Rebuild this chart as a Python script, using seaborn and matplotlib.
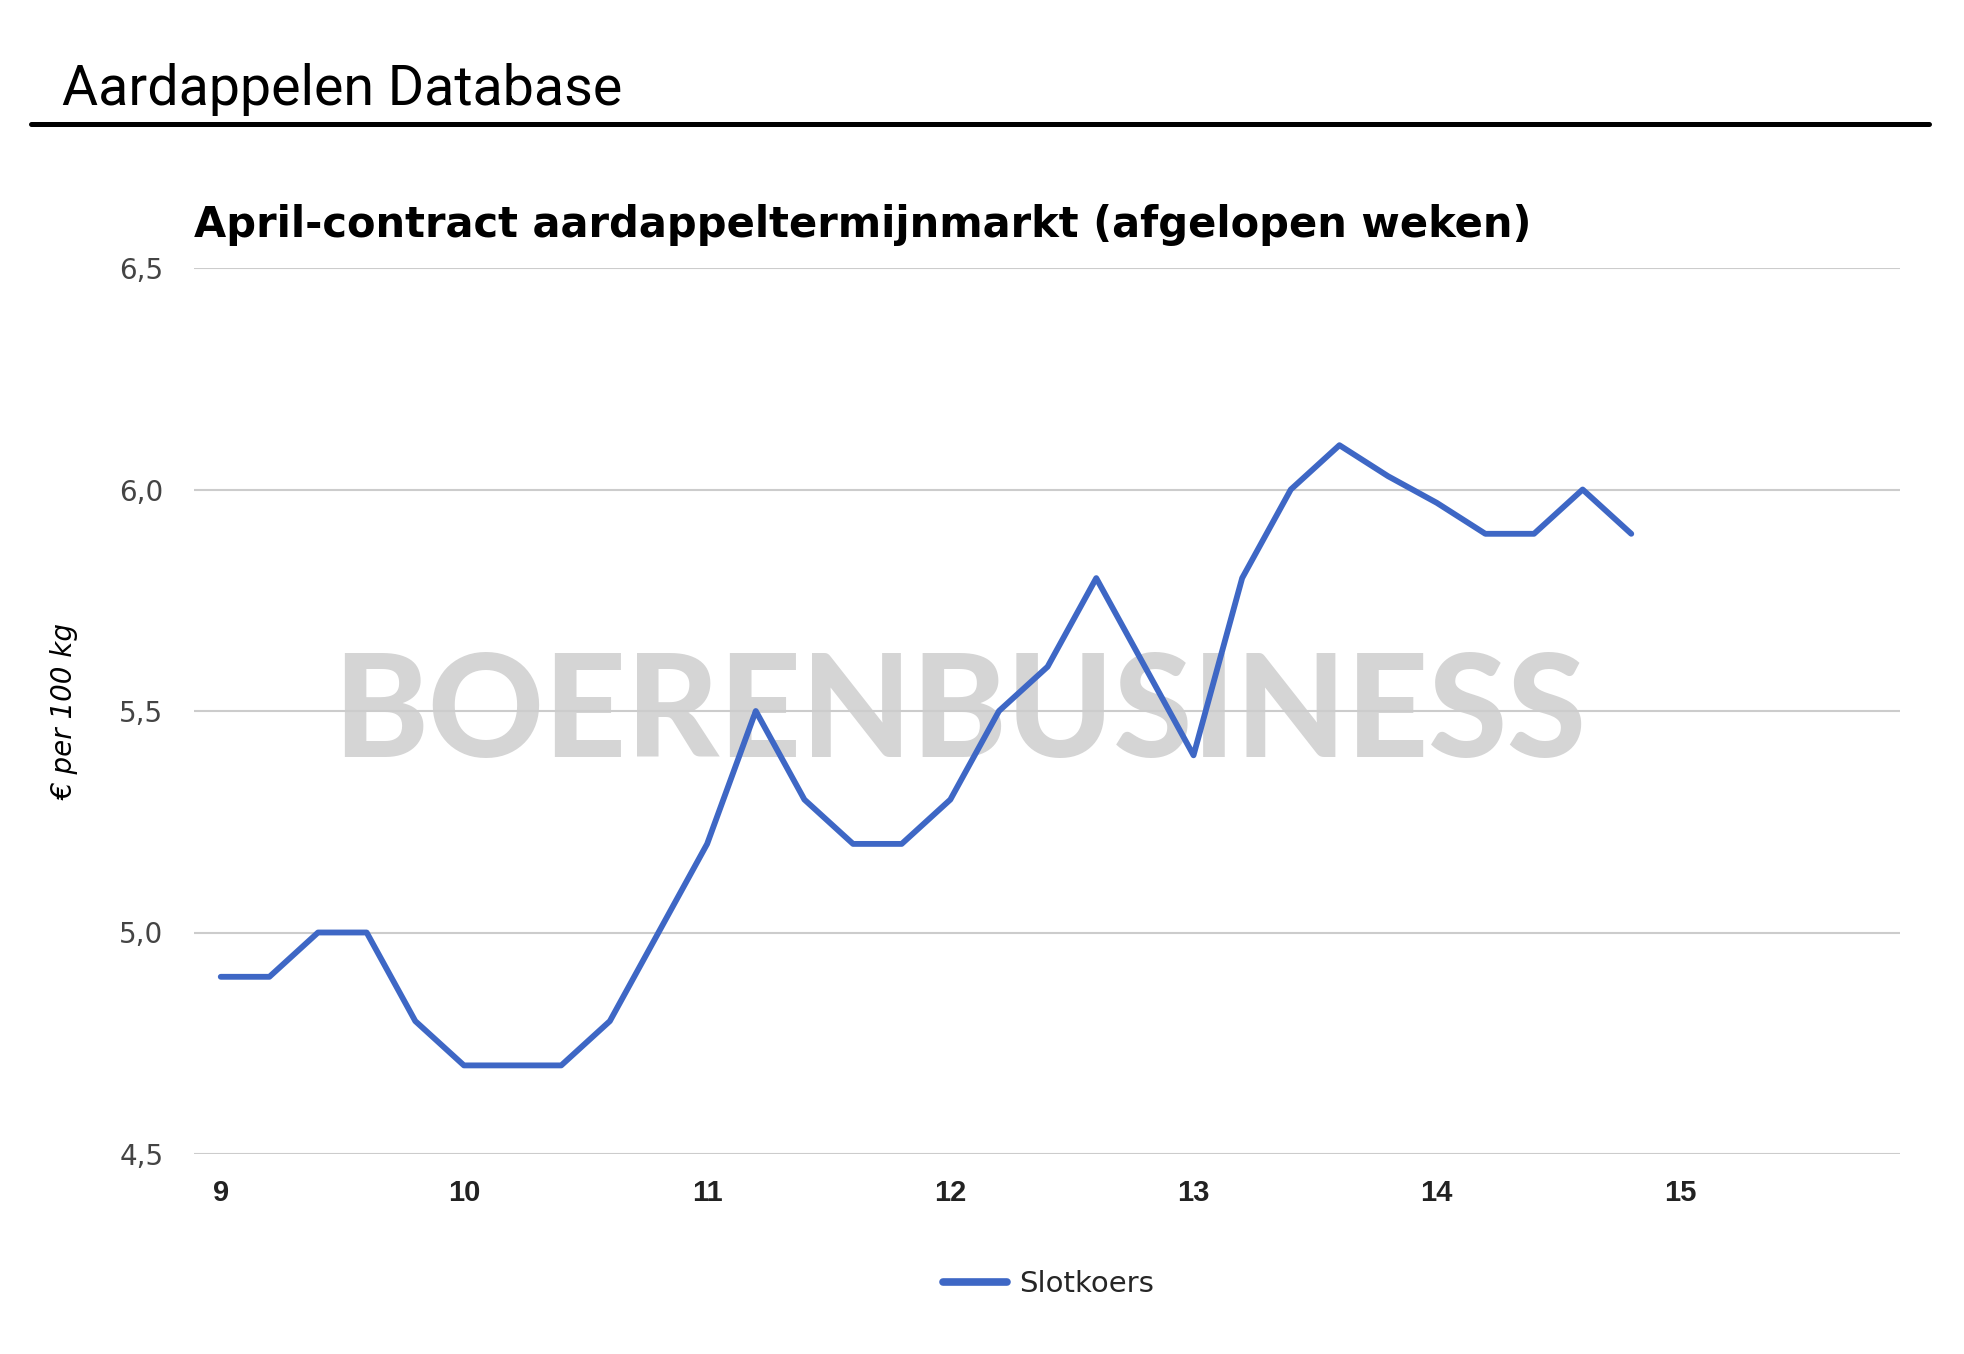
import matplotlib.pyplot as plt
import pandas as pd
import seaborn as sns
from matplotlib.lines import Line2D

# data (week number, closing price in euro per 100 kg)
weeks = [9.0, 9.2, 9.4, 9.6, 9.8, 10.0, 10.2, 10.4, 10.6, 10.8,
         11.0, 11.2, 11.4, 11.6, 11.8, 12.0, 12.2, 12.4, 12.6, 12.8,
         13.0, 13.2, 13.4, 13.6, 13.8, 14.0, 14.2, 14.4, 14.6, 14.8]
prices = [4.9, 4.9, 5.0, 5.0, 4.8, 4.7, 4.7, 4.7, 4.8, 5.0,
          5.2, 5.5, 5.3, 5.2, 5.2, 5.3, 5.5, 5.6, 5.8, 5.6,
          5.4, 5.8, 6.0, 6.1, 6.03, 5.97, 5.9, 5.9, 6.0, 5.9]
series_name = 'Slotkoers'
x_ticks = [9, 10, 11, 12, 13, 14, 15]
y_ticks = [4.5, 5.0, 5.5, 6.0, 6.5]
y_tick_labels = ['4,5', '5,0', '5,5', '6,0', '6,5']

df = pd.DataFrame({'week': weeks, 'prijs': prices})

sns.set_theme(style='white')
plt.rcParams['font.family'] = ['DejaVu Sans']

W, H = 1964, 1354
fig = plt.figure(figsize=(W / 100, H / 100), dpi=100)
ax = fig.add_axes([194 / W, 1 - 1154 / H, (1900 - 194) / W, (1154 - 268) / H])

sns.lineplot(data=df, x='week', y='prijs', color='#3e67c5', linewidth=4.2,
             label=series_name, ax=ax, zorder=5)

ax.set_xlim(8.89, 15.905)
ax.set_ylim(4.5, 6.5)
ax.set_xticks(x_ticks)
ax.set_xticklabels([str(t) for t in x_ticks], fontsize=21, fontweight='bold',
                   family='Liberation Sans', color='#222222')
ax.set_yticks(y_ticks)
ax.set_yticklabels(y_tick_labels, fontsize=20, color='#444444')
ax.tick_params(axis='x', length=0, pad=18)
ax.tick_params(axis='y', length=0, pad=22)
ax.grid(axis='y', color='#cccccc', linewidth=1.5, zorder=1)
ax.set_axisbelow(True)
for s in ax.spines.values():
    s.set_visible(False)

ax.set_xlabel('')
ax.set_ylabel('€ per 100 kg', fontsize=20, fontstyle='italic', color='black')
ax.yaxis.set_label_coords(-0.0674, 0.5)

# watermark
ax.text(0.449, 0.495, 'BOERENBUSINESS', transform=ax.transAxes, ha='center', va='center',
        fontsize=103, fontweight='black', family=['Lato', 'DejaVu Sans'],
        color='#d5d5d5', zorder=0.5)

# legend at bottom
leg = ax.legend(loc='center', bbox_to_anchor=(0.5337, 0.0517), bbox_transform=fig.transFigure,
                frameon=False, fontsize=21, handlelength=2.2, handletextpad=0.4)
for h in leg.get_lines():
    h.set_linewidth(5.5)

# header and titles
fig.text(62 / W, 1 - 105 / H, 'Aardappelen Database', fontsize=40, family='Roboto',
         va='baseline', ha='left', color='black')
fig.add_artist(Line2D([31 / W, 1929 / W], [1 - 124 / H] * 2, color='black', linewidth=3.6))
fig.text(194 / W, 1 - 237 / H, 'April-contract aardappeltermijnmarkt (afgelopen weken)',
         fontsize=30, fontweight='bold', va='baseline', ha='left', color='black')

fig.savefig('out.png', dpi=100)
